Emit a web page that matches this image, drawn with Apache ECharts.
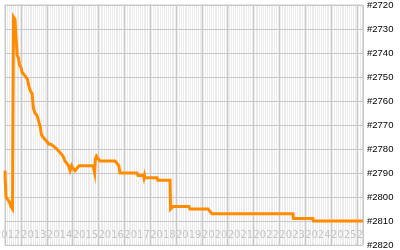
<!DOCTYPE html>
<html>
<head>
<meta charset="utf-8">
<script src="https://cdn.jsdelivr.net/npm/echarts@6/dist/echarts.min.js"></script>
<style>
html,body{margin:0;padding:0;background:#ffffff;}
#chart{width:400px;height:250px;}
</style>
</head>
<body>
<div id="chart"></div>
<script>
// Decimal-year positions of the rank readings
const years = [
  2012.38, 2012.39, 2012.42, 2012.48, 2012.55, 2012.61, 2012.67, 2012.70,
  2012.71, 2012.77, 2012.79, 2012.83, 2012.85, 2012.90, 2012.94, 2013.00,
  2013.04, 2013.12, 2013.19, 2013.25, 2013.31, 2013.37, 2013.43, 2013.48,
  2013.54, 2013.62, 2013.70, 2013.75, 2013.79, 2013.85, 2013.93, 2014.01,
  2014.08, 2014.16, 2014.28, 2014.39, 2014.47, 2014.55, 2014.63, 2014.70,
  2014.78, 2014.84, 2014.90, 2014.96, 2015.01, 2015.09, 2015.17, 2015.25,
  2015.32, 2015.79, 2015.85, 2015.88, 2015.92, 2015.98, 2016.06, 2016.14,
  2016.64, 2016.72, 2016.79, 2016.83, 2017.49, 2017.53, 2017.74, 2017.76,
  2017.78, 2017.80, 2018.27, 2018.30, 2018.77, 2018.79, 2018.88, 2019.50,
  2019.54, 2020.24, 2020.32, 2020.39, 2023.53, 2023.55, 2024.30, 2024.32,
  2026.24
];
// Rank values (lower number = better, axis is inverted)
const ranks = [
  2789, 2793, 2800, 2801, 2802, 2804, 2805, 2805,
  2725, 2726, 2731, 2737, 2741, 2742, 2745, 2746,
  2748, 2749, 2749, 2751, 2754, 2756, 2757, 2763,
  2765, 2766, 2769, 2771, 2774, 2775, 2776, 2777,
  2778, 2778, 2779, 2780, 2781, 2782, 2783, 2785,
  2786, 2787, 2789, 2787, 2788, 2789, 2788, 2787,
  2787, 2787, 2790, 2784, 2783, 2784, 2785, 2785,
  2785, 2786, 2787, 2790, 2790, 2791, 2791, 2792,
  2791, 2792, 2792, 2793, 2793, 2805, 2804, 2804,
  2805, 2805, 2806, 2807, 2807, 2809, 2809, 2810,
  2810
];
// Axis ranges
const xRange = [2012.38, 2026.24];
const rankRange = [2720, 2820];
const rankStep = 10;

const chart = echarts.init(document.getElementById('chart'), null, {renderer: 'canvas'});

const gridColor = '#c8c8c8';
const option = {
  animation: false,
  backgroundColor: '#ffffff',
  grid: {
    left: 5, right: 37, top: 5, bottom: 5,
    containLabel: false,
    outerBoundsMode: 'none',
    show: true,
    backgroundColor: '#ebebeb',
    borderColor: gridColor,
    borderWidth: 1
  },
  xAxis: {
    type: 'value',
    z: 0,
    min: xRange[0],
    max: xRange[1],
    splitNumber: 14,
    minInterval: 1,
    maxInterval: 1,
    axisLine: {show: false},
    axisTick: {show: false},
    minorTick: {show: false, splitNumber: 12},
    minorSplitLine: {show: true, lineStyle: {color: '#ffffff', width: 1}},
    splitLine: {show: true, lineStyle: {color: gridColor, width: 1}},
    axisLabel: {
      inside: true,
      showMinLabel: true,
      showMaxLabel: true,
      align: 'left',
      margin: 5,
      color: '#c4c4c4',
      fontFamily: 'DejaVu Sans',
      fontSize: 10,
      formatter: function (v) {
        if (Math.abs(v - Math.round(v)) < 1e-6) {
          const y = Math.round(v);
          if (y >= 2026) return '2';
          return String(y);
        }
        if (v < 2013) return '{m|2012}';
        return '';
      },
      rich: {
        m: {
          color: '#c4c4c4',
          fontFamily: 'DejaVu Sans',
          fontSize: 10,
          padding: [0, 0, 0, -10]
        }
      }
    }
  },
  yAxis: {
    type: 'value',
    z: 1,
    inverse: true,
    position: 'right',
    min: rankRange[0],
    max: rankRange[1],
    interval: rankStep,
    axisLine: {show: false},
    axisTick: {show: false},
    splitLine: {show: true, lineStyle: {color: gridColor, width: 1}},
    axisLabel: {
      showMinLabel: true,
      showMaxLabel: true,
      hideOverlap: false,
      margin: 4,
      color: '#000000',
      fontFamily: 'Liberation Sans',
      fontSize: 9.5,
      formatter: function (v) { return '#' + v; }
    }
  },
  series: [{
    type: 'line',
    z: 5,
    data: years.map(function (y, i) { return [y, ranks[i]]; }),
    showSymbol: false,
    symbol: 'none',
    clip: true,
    lineStyle: {color: '#ff8c00', width: 3, join: 'miter', cap: 'butt'}
  }]
};
chart.setOption(option);
</script>
</body>
</html>
